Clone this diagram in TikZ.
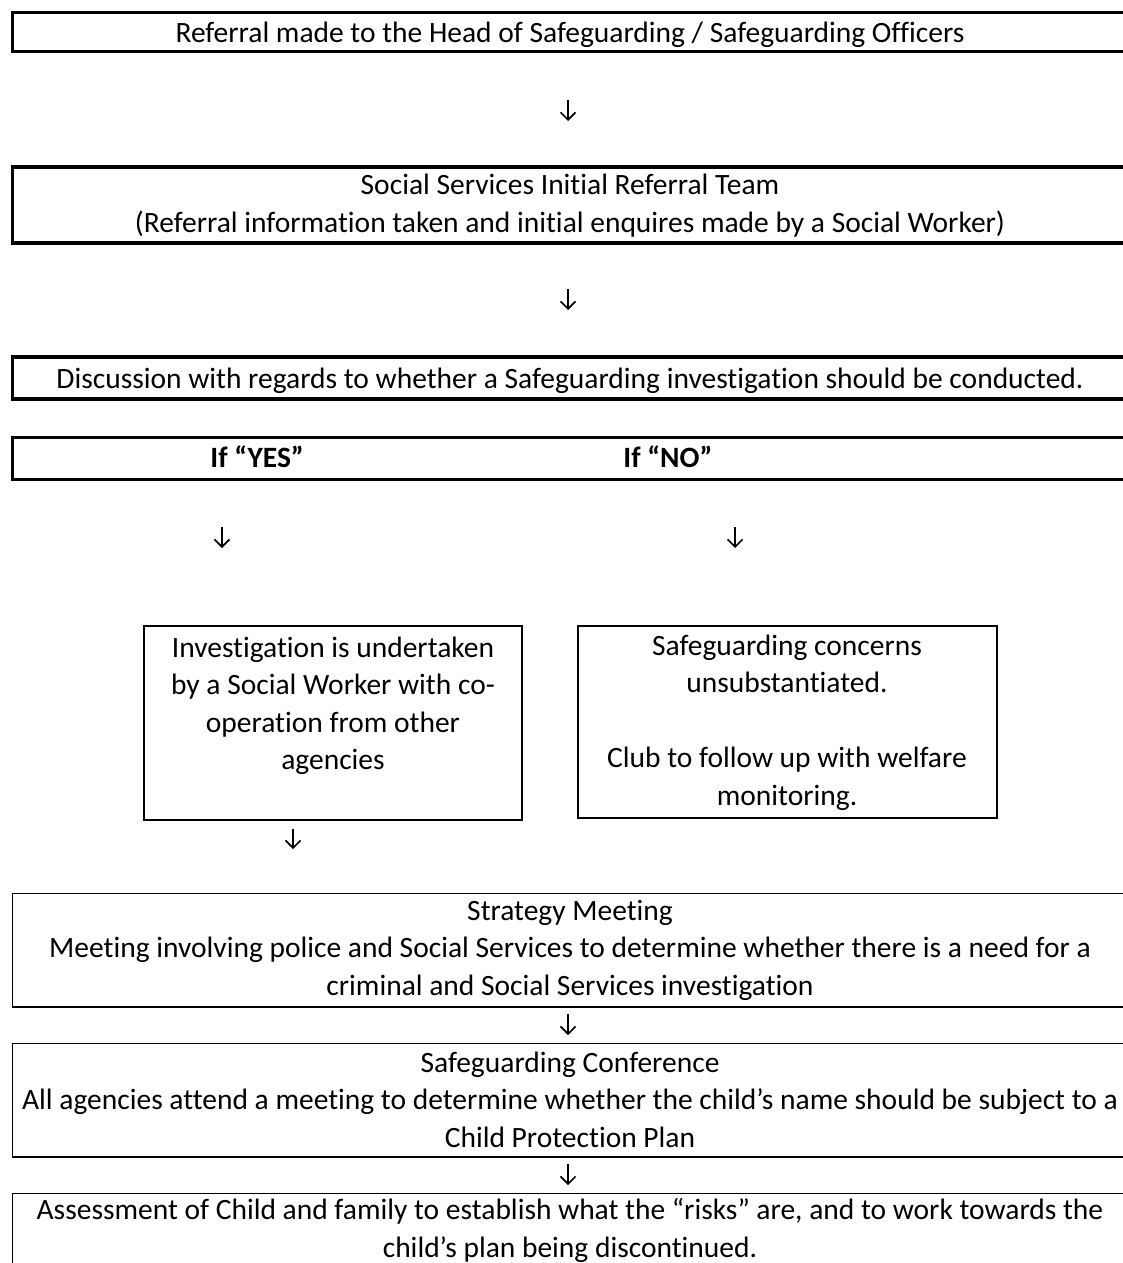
\documentclass[tikz,border=0pt]{standalone}
\usepackage{fontspec}
\setmainfont{Carlito}[Ligatures=NoCommon]
\usetikzlibrary{arrows.meta,fit}
\begin{document}
\begin{tikzpicture}[x=1pt,y=-1pt,
  thickbox/.style={draw,line width=3.5pt,inner sep=0pt},
  midbox/.style={draw,line width=2.6pt,inner sep=0pt},
  thinbox/.style={draw,line width=1.3pt,inner sep=0pt},
  txt/.style={anchor=base,align=center,inner sep=0pt,font=\fontsize{29.5}{37.5}\selectfont},
  arr/.style={line width=1.6pt,-{Straight Barb[length=7.5pt,width=15pt,line width=1.6pt]}}]
\useasboundingbox (0,0) rectangle (1122,1263);
% boxes
\node[thickbox, fit={(12.5,12.7) (1140,51.7)}] (b1) {};
\node[thickbox, fit={(12.5,167) (1140,243)}] (b2) {};
\node[thickbox, fit={(12.5,357) (1140,398.8)}] (b3) {};
\node[thickbox, fit={(12.5,437.3) (1140,479.5)}] (b4) {};
\node[midbox, fit={(144,626) (522,820)}] (b5) {};
\node[midbox, fit={(578,626) (997,818)}] (b6) {};
\node[thinbox, fit={(12.5,893.5) (1140,1007)}] (b7) {};
\node[thinbox, fit={(12.5,1043.5) (1140,1157)}] (b8) {};
\node[thinbox, fit={(12.5,1193.5) (1140,1310)}] (b9) {};
% texts (anchor base = baseline of last line)
\node[txt] (t1) at (570,43) {Referral made to the Head of Safeguarding / Safeguarding Officers};
\node[txt] (t2) at (570,232) {Social Services Initial Referral Team\\(Referral information taken and initial enquires made by a Social Worker)};
\node[txt] (t3) at (570,388) {Discussion with regards to whether a Safeguarding investigation should be conducted.};
\node[txt,font=\fontsize{29.5}{37.5}\selectfont\bfseries] (t4y) at (257,467) {If “YES”};
\node[txt,font=\fontsize{29.5}{37.5}\selectfont\bfseries] (t4n) at (668,467) {If “NO”};
\node[txt] (t5) at (333,769.5) {Investigation is undertaken\\by a Social Worker with co-\\operation from other\\agencies};
\node[txt] (t6) at (787,805) {Safeguarding concerns\\unsubstantiated.\\[37.5pt]Club to follow up with welfare\\monitoring.};
\node[txt] (t7) at (570,995) {Strategy Meeting\\Meeting involving police and Social Services to determine whether there is a need for a\\criminal and Social Services investigation};
\node[txt] (t8) at (570,1147) {Safeguarding Conference\\All agencies attend a meeting to determine whether the child’s name should be subject to a\\Child Protection Plan};
\node[txt] (t9) at (570,1257) {Assessment of Child and family to establish what the “risks” are, and to work towards the\\child’s plan being discontinued.};
% arrows
\coordinate (a1s) at (568,100); \coordinate (a1e) at (568,121);
\coordinate (a2s) at (568,289); \coordinate (a2e) at (568,310);
\coordinate (a3s) at (222,527); \coordinate (a3e) at (222,548);
\coordinate (a4s) at (735,527); \coordinate (a4e) at (735,548);
\coordinate (a5s) at (293,829); \coordinate (a5e) at (293,849);
\coordinate (a6s) at (568,1014); \coordinate (a6e) at (568,1035);
\coordinate (a7s) at (568,1164); \coordinate (a7e) at (568,1185);
\draw[arr] (a1s) -- (a1e);
\draw[arr] (a2s) -- (a2e);
\draw[arr] (a3s) -- (a3e);
\draw[arr] (a4s) -- (a4e);
\draw[arr] (a5s) -- (a5e);
\draw[arr] (a6s) -- (a6e);
\draw[arr] (a7s) -- (a7e);
\end{tikzpicture}
\end{document}
